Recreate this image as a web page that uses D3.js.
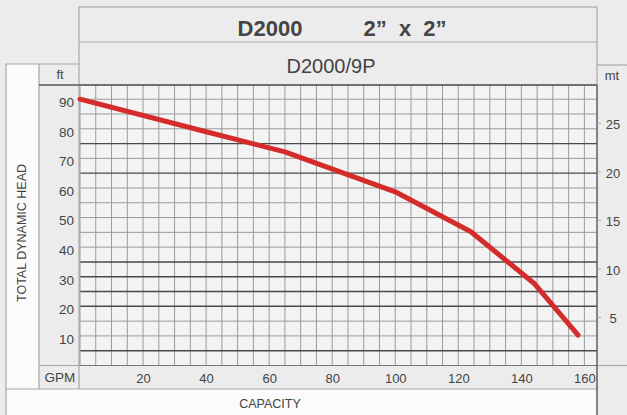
<!DOCTYPE html>
<html>
<head>
<meta charset="utf-8">
<script src="https://cdn.jsdelivr.net/npm/d3@7"></script>
<style>
body { margin: 0; background: #ececec; }
text { font-family: "Liberation Sans", Arial, sans-serif; fill: #444; }
</style>
</head>
<body>
<div id="chart"></div>
<script>
// pump curve
var gpm = [0, 40, 65, 100, 124, 144, 158];
var head = [90, 79, 72.2, 58.7, 45.2, 27.8, 10.3];
var ftTicks = [10, 20, 30, 40, 50, 60, 70, 80, 90];
var mtTicks = [5, 10, 15, 20, 25];
var gpmTicks = [20, 40, 60, 80, 100, 120, 140, 160];
var boldLines = [5, 20, 25, 30, 35, 65, 75];

var W = 627, H = 415;
var L = 80, R = 597, T = 85, B = 365.5;

var svg = d3.select("#chart").append("svg")
	.attr("width", W)
	.attr("height", H);

var x = d3.scaleLinear().domain([0, 164]).range([L, R]);
var y = d3.scaleLinear().domain([0, 94.8]).range([B, T]);
var ym = d3.scaleLinear().domain([0, 94.8 / 3.2808]).range([B, T]);

// frame boxes
svg.append("rect").attr("x", 6).attr("y", 64).attr("width", 33).attr("height", 351)
	.attr("fill", "#fbfbfb");
svg.append("rect").attr("x", 6).attr("y", 389).attr("width", R - 6).attr("height", 30)
	.attr("fill", "#fbfbfb");
svg.append("rect").attr("x", L).attr("y", T).attr("width", R - L).attr("height", B - T)
	.attr("fill", "#f3f3f3");

var frame = svg.append("g").attr("stroke", "#a8a8a8").attr("fill", "none").attr("stroke-width", 1.2);
frame.append("rect").attr("x", 79).attr("y", 7).attr("width", R - 79).attr("height", T - 7);
frame.append("line").attr("x1", 79).attr("x2", R).attr("y1", 42).attr("y2", 42);
frame.append("path").attr("d", "M6,415V64H79");
frame.append("path").attr("d", "M39,64V389");
frame.append("path").attr("d", "M6,389H" + R);
frame.append("path").attr("d", "M79,85V389");
frame.append("path").attr("d", "M39," + B + "H" + L);
frame.append("path").attr("d", "M" + R + ",65H627");
frame.append("path").attr("d", "M" + R + "," + B + "H627");

// grid
var grid = svg.append("g");
grid.selectAll("line.v")
	.data(d3.range(5, 164, 5))
	.enter()
	.append("line")
		.attr("x1", function(d){ return x(d); })
		.attr("x2", function(d){ return x(d); })
		.attr("y1", T)
		.attr("y2", B)
		.attr("stroke", "#9a9a9a")
		.attr("stroke-width", 1);
grid.selectAll("line.h")
	.data(d3.range(5, 95, 5))
	.enter()
	.append("line")
		.attr("x1", L)
		.attr("x2", R)
		.attr("y1", function(d){ return y(d); })
		.attr("y2", function(d){ return y(d); })
		.attr("stroke", function(d){ return boldLines.indexOf(d) >= 0 ? "#4a4a4a" : "#9a9a9a"; })
		.attr("stroke-width", function(d){ return boldLines.indexOf(d) >= 0 ? 1.4 : 1; });

// plot border
svg.append("line").attr("x1", 39).attr("x2", R).attr("y1", T).attr("y2", T)
	.attr("stroke", "#555").attr("stroke-width", 1.4);
svg.append("line").attr("x1", L).attr("x2", R).attr("y1", B).attr("y2", B)
	.attr("stroke", "#777").attr("stroke-width", 1.2);
svg.append("line").attr("x1", L).attr("x2", L).attr("y1", T).attr("y2", B)
	.attr("stroke", "#999").attr("stroke-width", 1);
svg.append("line").attr("x1", R).attr("x2", R).attr("y1", T).attr("y2", H)
	.attr("stroke", "#555").attr("stroke-width", 1.4);

// axes
var left = svg.append("g")
	.attr("transform", "translate(" + (L - 1) + ",0)")
	.call(d3.axisLeft(y).tickValues(ftTicks).tickSize(0).tickPadding(5));
left.select(".domain").remove();
left.selectAll("text").attr("dy", "0.55em").style("font-size", "13.5px").attr("fill", "#555");

var right = svg.append("g")
	.attr("transform", "translate(" + R + ",0)")
	.call(d3.axisRight(ym).tickValues(mtTicks).tickSize(4).tickPadding(5));
right.select(".domain").remove();
right.selectAll("line").attr("stroke", "#aaa");
right.selectAll("text").attr("text-anchor", "middle").attr("x", 16).attr("dy", "0.45em")
	.style("font-size", "13px").attr("fill", "#555");

var bottom = svg.append("g")
	.attr("transform", "translate(0," + B + ")")
	.call(d3.axisBottom(x).tickValues(gpmTicks).tickSize(0).tickPadding(8));
bottom.select(".domain").remove();
bottom.selectAll("text").style("font-size", "13px").attr("fill", "#555");

// curve
var line = d3.line()
	.x(function(d, i){ return x(gpm[i]); })
	.y(function(d){ return y(d); });
svg.append("path")
	.attr("d", line(head))
	.attr("fill", "none")
	.attr("stroke", "#d42b2b")
	.attr("stroke-width", 5)
	.attr("stroke-linecap", "round")
	.attr("stroke-linejoin", "round");

// labels
svg.append("text").text("D2000")
	.attr("x", 270).attr("y", 36).attr("text-anchor", "middle")
	.style("font-size", "22px").style("font-weight", "bold").attr("fill", "#222");
svg.append("text").text("2\u201D  x  2\u201D")
	.attr("x", 405).attr("y", 36).attr("text-anchor", "middle")
	.style("font-size", "22px").style("font-weight", "bold").style("white-space", "pre").attr("fill", "#222");
svg.append("text").text("D2000/9P")
	.attr("x", 331).attr("y", 73).attr("text-anchor", "middle")
	.style("font-size", "20px").attr("fill", "#333");
svg.append("text").text("ft")
	.attr("x", 60).attr("y", 79).attr("text-anchor", "middle").style("font-size", "13px");
svg.append("text").text("mt")
	.attr("x", 612).attr("y", 80).attr("text-anchor", "middle").style("font-size", "13px");
svg.append("text").text("GPM")
	.attr("x", 60).attr("y", 382).attr("text-anchor", "middle").style("font-size", "13.5px").attr("fill", "#555");
svg.append("text").text("CAPACITY")
	.attr("x", 270).attr("y", 408).attr("text-anchor", "middle").style("font-size", "12.5px");
svg.append("text").text("TOTAL DYNAMIC HEAD")
	.attr("transform", "translate(26,233) rotate(-90)")
	.attr("text-anchor", "middle").style("font-size", "12.5px");
</script>
</body>
</html>
